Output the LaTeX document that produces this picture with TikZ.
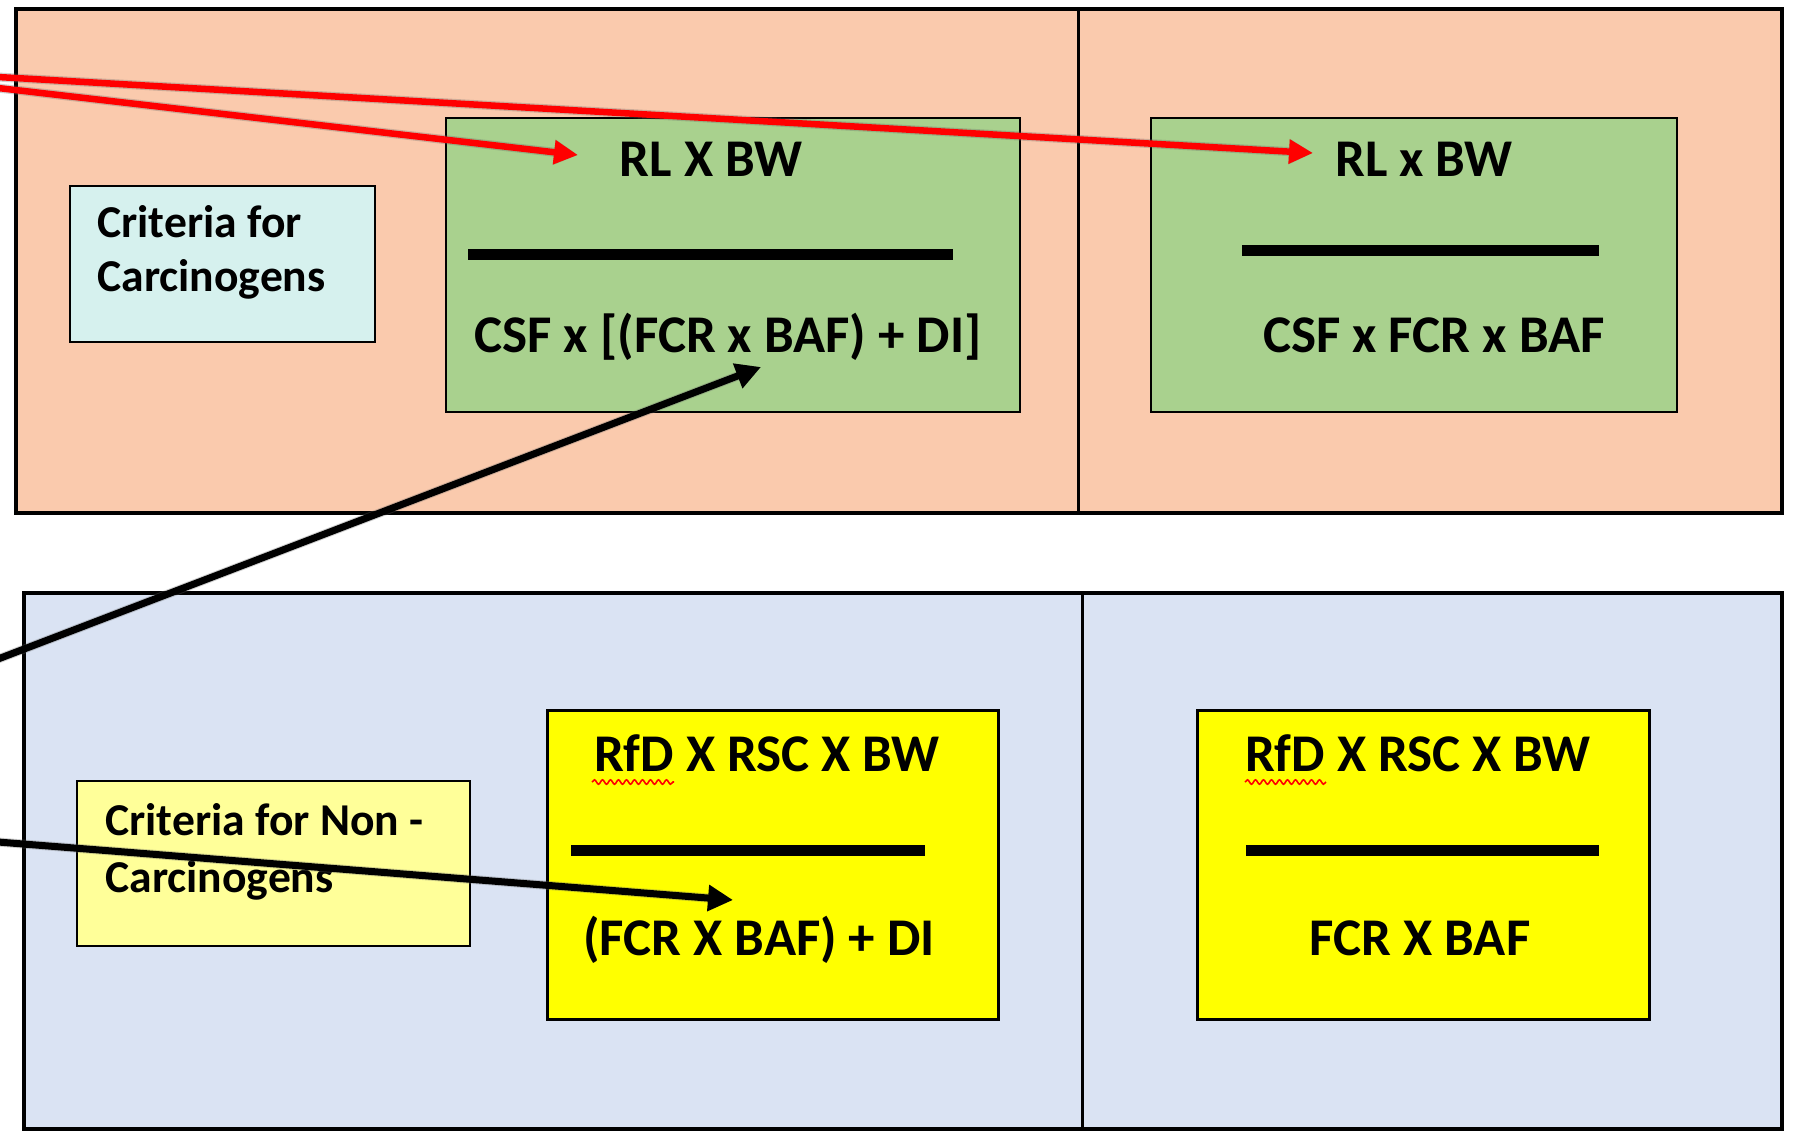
\documentclass[tikz,border=0pt]{standalone}
\usepackage{fontspec}
\setmainfont{Carlito}
\usetikzlibrary{arrows.meta,decorations.pathmorphing}
\definecolor{peach}{HTML}{FACAAD}
\definecolor{greenbox}{HTML}{A9D18E}
\definecolor{paleblue}{HTML}{DAE3F3}
\definecolor{palecyan}{HTML}{D6F1EE}
\definecolor{paleyellow}{HTML}{FFFF99}
\definecolor{brightyellow}{HTML}{FFFF00}
\definecolor{arrowred}{HTML}{FF0000}
\begin{document}
\begin{tikzpicture}[x=0.5pt,y=-0.5pt,
  panel/.style={draw=black, line width=2.25pt, anchor=north west, inner sep=0pt, outer sep=0pt, rectangle},
  innerbox/.style={draw=black, line width=1pt, anchor=north west, inner sep=0pt, outer sep=0pt, rectangle},
  formula/.style={font=\fontsize{26.5}{30}\selectfont\bfseries, anchor=base, inner sep=0pt},
  crittext/.style={font=\fontsize{22.8}{27}\selectfont\bfseries, anchor=base west, inner sep=0pt},
  fracbar/.style={line width=5.5pt},
  divider/.style={line width=1.5pt},
  redarrow/.style={draw=arrowred, line width=3.25pt, -{Triangle[length=12pt,width=11.5pt]}},
  blackarrow/.style={draw=black, line width=3.5pt, -{Triangle[length=12.5pt,width=12.5pt]}},
  arrowshadow/.style={draw=black!60, draw opacity=0.3, line width=4.5pt, xshift=1.5pt, yshift=-3pt, -{Triangle[length=12pt,width=12pt]}},
  squiggle/.style={draw=red, line width=0.8pt, decorate, decoration={snake, amplitude=1.1pt, segment length=4pt}}
]
\useasboundingbox (0,0) rectangle (1793,1132);
\fill[white] (0,0) rectangle (1793,1132);

% top panel (carcinogens)
\node[panel, fill=peach, minimum width=883pt, minimum height=252pt] (toppanel) at (16,9) {};
\coordinate (tdivtop) at (1078,9);
\coordinate (tdivbot) at (1078,513);
\draw[divider] (tdivtop) -- (tdivbot);

% bottom panel (non-carcinogens)
\node[panel, fill=paleblue, minimum width=879pt, minimum height=268pt] (botpanel) at (24,593) {};
\coordinate (bdivtop) at (1082,593);
\coordinate (bdivbot) at (1082,1129);
\draw[divider] (bdivtop) -- (bdivbot);

% criteria boxes
\node[innerbox, fill=palecyan, minimum width=152.5pt, minimum height=78pt] (critcarc) at (70,186) {};
\node[crittext] (critcarcA) at (97,237) {Criteria for};
\node[crittext] (critcarcB) at (97,291) {Carcinogens};

\node[innerbox, line width=1.25pt, fill=paleyellow, minimum width=196.5pt, minimum height=82.5pt] (critnon) at (77,781) {};
\node[crittext] (critnonA) at (105,835) {Criteria for Non -};
\node[crittext] (critnonB) at (105,892) {Carcinogens};

% green formula boxes
\node[innerbox, fill=greenbox, minimum width=287pt, minimum height=147pt] (green1) at (446,118) {};
\node[formula] (num1) at (711,176) {RL X BW};
\coordinate (bar1a) at (468,254);
\coordinate (bar1b) at (953,254);
\draw[fracbar] (bar1a) -- (bar1b);
\node[formula] (den1) at (728,352) {CSF x [(FCR x BAF) + DI]};

\node[innerbox, fill=greenbox, minimum width=263pt, minimum height=147pt] (green2) at (1151,118) {};
\node[formula] (num2) at (1424,176) {RL x BW};
\coordinate (bar2a) at (1242,250);
\coordinate (bar2b) at (1599,250);
\draw[fracbar] (bar2a) -- (bar2b);
\node[formula] (den2) at (1434,352) {CSF x FCR x BAF};

% yellow formula boxes
\node[innerbox, line width=1.5pt, fill=brightyellow, minimum width=225.5pt, minimum height=154.5pt] (yel1) at (547,710) {};
\node[formula] (num3) at (767,771) {RfD X RSC X BW};
\draw[squiggle] (592,782) -- (674,782);
\coordinate (bar3a) at (571,850);
\coordinate (bar3b) at (925,850);
\draw[fracbar] (bar3a) -- (bar3b);
\node[formula] (den3) at (759,955) {(FCR X BAF) + DI};

\node[innerbox, line width=1.5pt, fill=brightyellow, minimum width=226pt, minimum height=154.5pt] (yel2) at (1197,710) {};
\node[formula] (num4) at (1418,771) {RfD X RSC X BW};
\draw[squiggle] (1245,782) -- (1326,782);
\coordinate (bar4a) at (1246,850);
\coordinate (bar4b) at (1599,850);
\draw[fracbar] (bar4a) -- (bar4b);
\node[formula] (den4) at (1420,955) {FCR X BAF};

% arrows (coming in from outside the picture)
\coordinate (redAstart) at (-2,77);
\coordinate (redAend) at (1313,153);
\coordinate (redBstart) at (-2,88);
\coordinate (redBend) at (578,155);
\coordinate (blkAstart) at (-2,659);
\coordinate (blkAend) at (761,367);
\coordinate (blkBstart) at (-2,842);
\coordinate (blkBend) at (733,900);

\draw[arrowshadow] (redAstart) -- (redAend);
\draw[arrowshadow] (redBstart) -- (redBend);
\draw[arrowshadow] (blkAstart) -- (blkAend);
\draw[arrowshadow] (blkBstart) -- (blkBend);
\draw[redarrow] (redAstart) -- (redAend);
\draw[redarrow] (redBstart) -- (redBend);
\draw[blackarrow] (blkAstart) -- (blkAend);
\draw[blackarrow] (blkBstart) -- (blkBend);
\end{tikzpicture}
\end{document}
